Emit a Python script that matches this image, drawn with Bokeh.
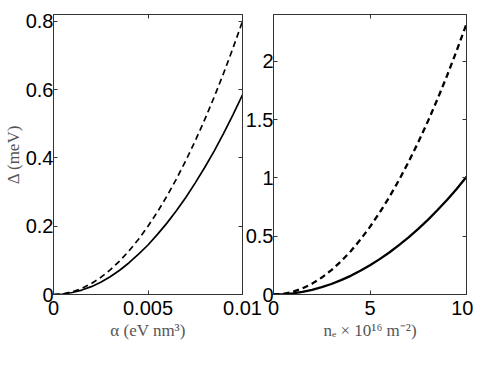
from bokeh.plotting import figure
from bokeh.layouts import row
from bokeh.models import LinearAxis, FixedTicker, Range1d
from bokeh.embed import file_html
from bokeh.resources import INLINE

# ---- data ----
alpha = [0.0, 0.0005, 0.001, 0.0015, 0.002, 0.0025, 0.003, 0.0035, 0.004, 0.0045, 0.005,
         0.0055, 0.006, 0.0065, 0.007, 0.0075, 0.008, 0.0085, 0.009, 0.0095, 0.01]
delta_a_solid = [0.0, 0.0015, 0.0058, 0.013, 0.023, 0.036, 0.052, 0.071, 0.093, 0.118, 0.145,
                 0.176, 0.209, 0.245, 0.284, 0.327, 0.372, 0.42, 0.472, 0.527, 0.585]
delta_a_dashed = [0.0, 0.002, 0.008, 0.018, 0.032, 0.05, 0.072, 0.098, 0.128, 0.162, 0.2,
                  0.242, 0.288, 0.338, 0.392, 0.45, 0.512, 0.578, 0.648, 0.722, 0.8]

ne = [0.0, 0.5, 1.0, 1.5, 2.0, 2.5, 3.0, 3.5, 4.0, 4.5, 5.0,
      5.5, 6.0, 6.5, 7.0, 7.5, 8.0, 8.5, 9.0, 9.5, 10.0]
delta_n_solid = [0.0, 0.0025, 0.01, 0.0225, 0.04, 0.063, 0.09, 0.123, 0.16, 0.203, 0.25,
                 0.303, 0.36, 0.423, 0.49, 0.563, 0.64, 0.724, 0.812, 0.906, 1.01]
delta_n_dashed = [0.0, 0.0058, 0.0232, 0.052, 0.093, 0.145, 0.209, 0.284, 0.371, 0.47, 0.58,
                  0.702, 0.835, 0.98, 1.137, 1.305, 1.485, 1.676, 1.879, 2.094, 2.32]

left_yticks = [0, 0.2, 0.4, 0.6, 0.8]
left_ylabels = {0: "0", 0.2: "0.2", 0.4: "0.4", 0.6: "0.6", 0.8: "0.8"}
left_xticks = [0, 0.005, 0.01]
left_xlabels = {0: "0", 0.005: "0.005", 0.01: "0.01"}
right_yticks = [0, 0.5, 1, 1.5, 2]
right_ylabels = {0: "0", 0.5: "0.5", 1: "1", 1.5: "1.5", 2: "2"}
right_xticks = [0, 5, 10]
right_xlabels = {0: "0", 5: "5", 10: "10"}

TICK_FONT = "Liberation Sans"
TICK_SIZE = "20px"
LABEL_FONT = "Liberation Serif"
LABEL_SIZE = "17px"
LABEL_COLOR = "#555555"
AXIS_COLOR = "#333333"


def style_axis(ax, ticks, labels, show_labels=True):
    ax.ticker = FixedTicker(ticks=ticks)
    if show_labels:
        ax.major_label_overrides = labels
    else:
        ax.major_label_overrides = {t: "" for t in ticks}
    ax.minor_tick_line_color = None
    ax.major_tick_in = 4
    ax.major_tick_out = 0
    ax.axis_line_color = AXIS_COLOR
    ax.major_tick_line_color = AXIS_COLOR
    ax.major_label_text_font = TICK_FONT
    ax.major_label_text_font_size = TICK_SIZE
    ax.major_label_text_color = "black"
    ax.major_label_standoff = 2 if show_labels else 0
    ax.axis_label_text_font = LABEL_FONT
    ax.axis_label_text_font_size = LABEL_SIZE
    ax.axis_label_text_font_style = "normal"
    ax.axis_label_text_color = LABEL_COLOR
    ax.axis_label_standoff = 1


def make_panel(x, ys, ds, xr, yr, xt, xl, yt, yl, xlabel, ylabel, width, bl, br, lw):
    p = figure(width=width, height=348, x_range=Range1d(*xr), y_range=Range1d(*yr),
               output_backend="svg", toolbar_location=None,
               min_border_left=bl, min_border_right=br, min_border_top=14, min_border_bottom=54)
    p.grid.visible = False
    p.outline_line_color = AXIS_COLOR
    p.background_fill_color = "white"
    style_axis(p.xaxis[0], xt, xl)
    style_axis(p.yaxis[0], yt, yl)
    p.xaxis[0].major_label_standoff = 6
    p.xaxis[0].axis_label_standoff = 3
    p.yaxis[0].major_label_standoff = 0
    p.yaxis[0].axis_label_standoff = 0
    p.xaxis[0].axis_label = xlabel
    if ylabel:
        p.yaxis[0].axis_label = ylabel
    top = LinearAxis()
    style_axis(top, xt, xl, show_labels=False)
    p.add_layout(top, "above")
    right = LinearAxis()
    style_axis(right, yt, yl, show_labels=False)
    p.add_layout(right, "right")
    p.line(x, ys, line_color="black", line_width=lw)
    p.line(x, ds, line_color="black", line_width=lw, line_dash="6 4")
    return p


p1 = make_panel(alpha, delta_a_solid, delta_a_dashed, (0, 0.01), (0, 0.82),
                left_xticks, left_xlabels, left_yticks, left_ylabels,
                "\u03b1 (eV nm\u00b3)", "\u0394 (meV)", 262, 53, 20, 1.7)
p2 = make_panel(ne, delta_n_solid, delta_n_dashed, (0, 10), (0, 2.4),
                right_xticks, right_xlabels, right_yticks, right_ylabels,
                "n\u2091 \u00d7 10\u00b9\u2076 m\u207b\u00b2)", None, 231, 30, 7, 2.3)
p1.border_fill_color = "white"
p2.border_fill_alpha = 0
p2.styles = {"margin-left": "-20px"}

layout = row(p1, p2)
open("out.html", "w").write(file_html(layout, INLINE))
